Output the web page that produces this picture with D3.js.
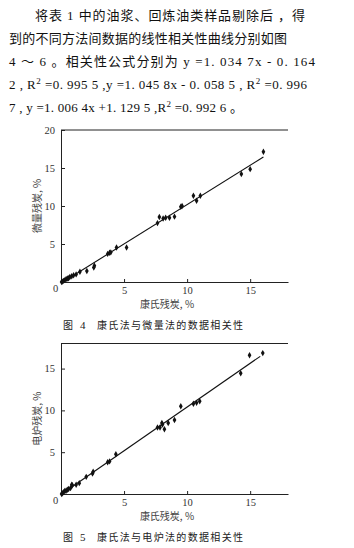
<!DOCTYPE html>
<html>
<head>
<meta charset="utf-8">
<script src="https://cdn.jsdelivr.net/npm/d3@7"></script>
<style>
  body { margin: 0; background: #fff; }
  svg { display: block; }
</style>
</head>
<body>
<script>

// paragraph lines, each a list of [text, isSuperscript]
const paraLines = [
  [["将表 1 中的油浆、回炼油类样品剔除后 ，得", 0]],
  [["到的不同方法间数据的线性相关性曲线分别如图", 0]],
  [["4 ～ 6 。相关性公式分别为 y =1. 034 7x - 0. 164", 0]],
  [["2 , R", 0], ["2", 1], [" =0. 995 5 ,y =1. 045 8x - 0. 058 5 , R", 0], ["2", 1], [" =0. 996", 0]],
  [["7 , y =1. 006 4x +1. 129 5 ,R", 0], ["2", 1], [" =0. 992 6 。", 0]]
];

// fig 4 : Conradson vs micro method
const fig4X = [0.05, 0.1, 0.2, 0.3, 0.4, 0.5, 0.6, 0.7, 0.85, 1.0, 1.2, 1.5, 2.05, 2.6, 2.65, 3.7, 3.85, 3.95, 4.4, 5.2,
               7.65, 7.8, 8.1, 8.3, 8.6, 9.0, 9.5, 9.6, 10.5, 10.75, 11.05, 14.3, 15.0, 16.05];
const fig4Y = [0.0, 0.05, 0.15, 0.25, 0.35, 0.45, 0.5, 0.65, 0.75, 0.9, 1.0, 1.35, 1.45, 1.9, 2.15, 3.7, 3.85, 3.9, 4.55, 4.55,
               7.75, 8.55, 8.35, 8.45, 8.45, 8.6, 9.9, 10.0, 11.35, 10.7, 11.35, 14.2, 14.85, 17.15];
const fig4Fit = [1.0347, -0.1642];   // slope, intercept
const fig4FitX = [0.16, 16.05];

// fig 5 : Conradson vs electric furnace method
const fig5X = [0.05, 0.1, 0.2, 0.3, 0.4, 0.5, 0.6, 0.75, 0.85, 0.9, 1.2, 1.45, 2.0, 2.5, 2.55, 3.7, 3.85, 4.35,
               7.65, 7.85, 8.0, 8.05, 8.2, 8.5, 9.0, 9.5, 10.5, 10.75, 11.0, 14.25, 14.95, 16.0];
const fig5Y = [0.0, 0.1, 0.2, 0.35, 0.4, 0.5, 0.6, 0.7, 1.1, 1.05, 1.1, 1.3, 2.05, 2.45, 2.65, 3.8, 3.9, 4.75,
               7.95, 7.95, 8.5, 8.3, 7.75, 8.5, 8.85, 10.5, 10.8, 10.9, 11.1, 14.45, 16.6, 16.85];
const fig5Fit = [1.0458, -0.0585];
const fig5FitX = [0.06, 15.8];

const xTicks = [5, 10, 15];
const fig4YTicks = [5, 10, 15, 20];
const fig5YTicks = [5, 10, 15];
const xTitle = "康氏残炭, %";
const fig4YTitle = "微量残炭, %";
const fig5YTitle = "电炉残炭, %";
const fig4Caption = ["图", "4", "康氏法与微量法的数据相关性"];
const fig5Caption = ["图", "5", "康氏法与电炉法的数据相关性"];

const W = 354, H = 548;
const latin = "'Liberation Serif', 'Noto Sans CJK SC', serif";
const cjk = "'Noto Sans CJK SC', sans-serif";

const svg = d3.select("body").append("svg")
              .attr("width", W)
              .attr("height", H);

// paragraph
const paraY = [19.5, 42.5, 65.5, 89, 112];
const paraX = [35, 9, 9, 9, 9];
const paraLen = [270, 278, 306, 298, 234];

paraLines.forEach((segs, i) => {
  const t = svg.append("text")
               .attr("x", paraX[i])
               .attr("y", paraY[i])
               .attr("font-family", latin)
               .attr("font-size", 13)
               .attr("fill", "#111")
               .attr("textLength", paraLen[i])
               .attr("lengthAdjust", "spacing");
  let up = 0;
  segs.forEach(([s, sup]) => {
    const dy = sup ? -5 : (up ? 5 : 0);
    up = sup;
    t.append("tspan")
     .attr("dy", dy)
     .attr("font-size", sup ? 9 : 13)
     .text(s);
  });
});

function scatter(opt) {
  const x = d3.scaleLinear().domain([0, 18]).range([61, 288]);
  const y = d3.scaleLinear().domain([0, opt.yMax]).range([opt.bottom, opt.top]);
  const g = svg.append("g");

  // top border
  g.append("line")
   .attr("x1", 61).attr("x2", 288)
   .attr("y1", opt.top).attr("y2", opt.top)
   .attr("stroke", "#222").attr("stroke-width", 1);

  const xAxis = d3.axisBottom(x)
                  .tickValues(xTicks)
                  .tickSizeInner(-3)
                  .tickSizeOuter(0)
                  .tickPadding(5);
  const yAxis = d3.axisLeft(y)
                  .tickValues(opt.yTicks)
                  .tickSizeInner(-4)
                  .tickSizeOuter(0)
                  .tickPadding(6);

  const gx = g.append("g")
              .attr("transform", `translate(0, ${opt.bottom})`)
              .call(xAxis);
  const gy = g.append("g")
              .attr("transform", "translate(61,0)")
              .call(yAxis);

  [gx, gy].forEach(a => {
    a.selectAll("path, line").attr("stroke", "#222");
    a.selectAll("text")
     .attr("font-family", latin)
     .attr("font-size", 10.5)
     .attr("fill", "#333");
  });

  // shared zero at the corner
  g.append("text")
   .attr("x", 55.5).attr("y", opt.bottom + 9.5)
   .attr("text-anchor", "middle")
   .attr("font-family", latin).attr("font-size", 10.5).attr("fill", "#333")
   .text("0");

  // fit line
  g.append("line")
   .attr("x1", x(opt.fitX[0])).attr("y1", y(opt.fit[0] * opt.fitX[0] + opt.fit[1]))
   .attr("x2", x(opt.fitX[1])).attr("y2", y(opt.fit[0] * opt.fitX[1] + opt.fit[1]))
   .attr("stroke", "#111").attr("stroke-width", 1.1);

  // points
  const pts = opt.xs.map((v, i) => [v, opt.ys[i]]);
  g.selectAll("path.pt")
   .data(pts)
   .enter()
   .append("path")
   .attr("class", "pt")
   .attr("d", d3.symbol().type(d3.symbolDiamond).size(12))
   .attr("transform", d => `translate(${x(d[0])}, ${y(d[1])})`)
   .attr("fill", "#111");

  // axis titles
  g.append("text")
   .attr("x", 167).attr("y", opt.bottom + 26)
   .attr("text-anchor", "middle")
   .attr("font-family", cjk).attr("font-size", 10).attr("fill", "#444")
   .text(xTitle);

  g.append("text")
   .attr("transform", `translate(41, ${(opt.top + opt.bottom) / 2}) rotate(-90)`)
   .attr("text-anchor", "middle")
   .attr("font-family", cjk).attr("font-size", 10).attr("fill", "#444")
   .text(opt.yTitle);

  // caption: "图", number, title
  const capX = [63, 80, 97];
  opt.caption.forEach((s, i) => {
    const c = g.append("text")
               .attr("x", capX[i]).attr("y", opt.bottom + 47)
               .attr("font-family", i === 1 ? latin : cjk)
               .attr("font-size", i === 1 ? 11 : 10)
               .attr("fill", "#222")
               .text(s);
    if (i === 2) c.attr("textLength", 146).attr("lengthAdjust", "spacing");
  });
}

scatter({ top: 130, bottom: 282, yMax: 20, yTicks: fig4YTicks, xs: fig4X, ys: fig4Y,
          fit: fig4Fit, fitX: fig4FitX, yTitle: fig4YTitle, caption: fig4Caption });
scatter({ top: 343.5, bottom: 494, yMax: 18, yTicks: fig5YTicks, xs: fig5X, ys: fig5Y,
          fit: fig5Fit, fitX: fig5FitX, yTitle: fig5YTitle, caption: fig5Caption });

</script>
</body>
</html>
